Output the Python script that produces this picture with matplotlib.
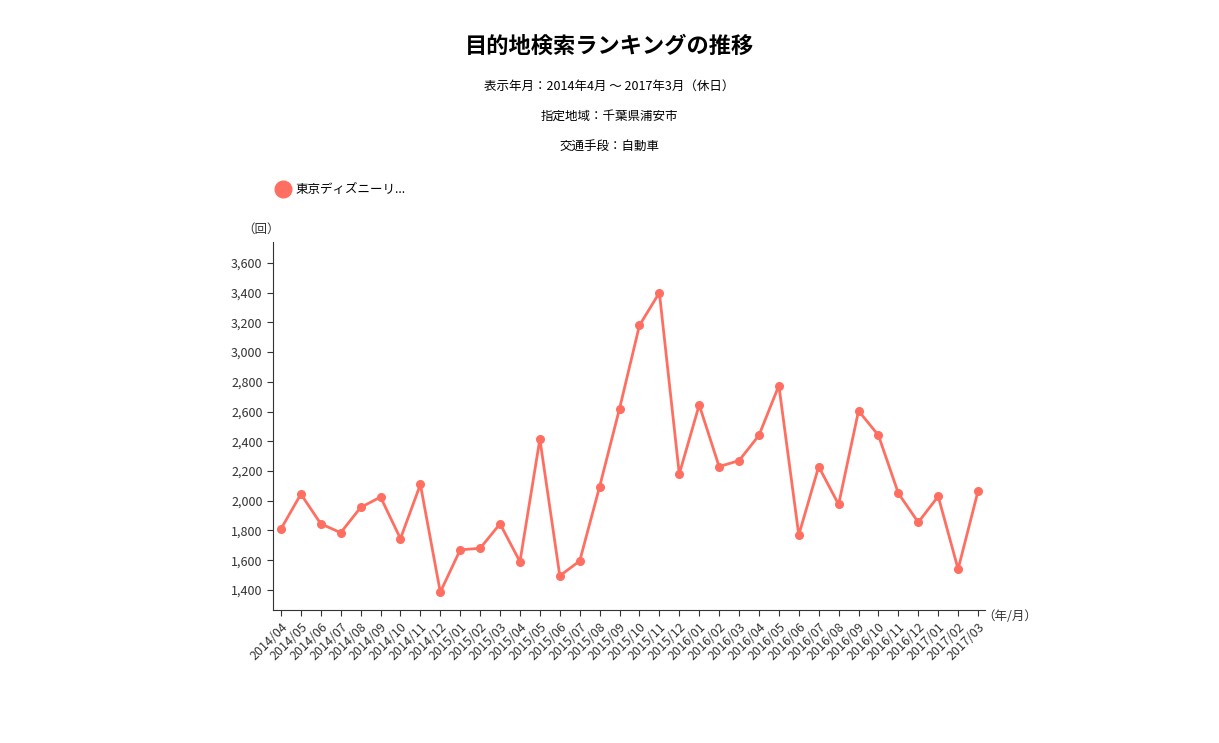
import matplotlib
matplotlib.use("Agg")
import matplotlib.pyplot as plt
from matplotlib.ticker import FuncFormatter
from matplotlib.lines import Line2D

plt.rcParams['font.family'] = ['Noto Sans CJK JP', 'DejaVu Sans']

months = ["2014/04","2014/05","2014/06","2014/07","2014/08","2014/09","2014/10","2014/11","2014/12",
          "2015/01","2015/02","2015/03","2015/04","2015/05","2015/06","2015/07","2015/08","2015/09",
          "2015/10","2015/11","2015/12","2016/01","2016/02","2016/03","2016/04","2016/05","2016/06",
          "2016/07","2016/08","2016/09","2016/10","2016/11","2016/12","2017/01","2017/02","2017/03"]
values = [1810,2045,1845,1785,1955,2025,1745,2110,1385,
          1670,1680,1845,1590,2415,1495,1595,2095,2620,
          3180,3400,2180,2645,2230,2270,2440,2775,1770,
          2230,1975,2605,2440,2050,1855,2030,1540,2065]
series_name = "東京ディズニーリ..."
yticks = list(range(1400, 3601, 200))

color = "#FF6F61"
W, H = 1219, 743
fig = plt.figure(figsize=(W/100, H/100), dpi=100)
ax = fig.add_axes([273/W, 1-610/H, (985-273)/W, (610-242)/H])
x = list(range(len(months)))
ax.plot(x, values, color=color, lw=2, marker='o', ms=5.5)
ax.set_xlim(-0.4, 35.35)
ax.set_ylim(1265, 3741)
ax.set_yticks(yticks)
ax.yaxis.set_major_formatter(FuncFormatter(lambda v, p: f"{int(v):,}"))
ax.set_xticks(x)
ax.set_xticklabels(months, rotation=45, ha='right', rotation_mode='anchor')
for s in ['top', 'right']:
    ax.spines[s].set_visible(False)
for s in ['left', 'bottom']:
    ax.spines[s].set_color('#333333')
ax.tick_params(labelsize=9, colors='#333333', length=4)
ax.tick_params(axis='y', labelcolor='#333333')

fig.text(ax.get_position().x0 - 0.01, 1-229/H, "（回）", fontsize=9, ha='center', va='center', color='#333')
fig.text(1010/W, 1-617/H, "（年/月）", fontsize=9, ha='center', va='center', color='#333')

fig.text(0.5, 1-46/H, "目的地検索ランキングの推移", fontsize=16, fontweight='bold', ha='center', va='center')
fig.text(0.5, 1-86/H, "表示年月：2014年4月 ～ 2017年3月（休日）", fontsize=9, ha='center', va='center')
fig.text(0.5, 1-116/H, "指定地域：千葉県浦安市", fontsize=9, ha='center', va='center')
fig.text(0.5, 1-146/H, "交通手段：自動車", fontsize=9, ha='center', va='center')

fig.legend([Line2D([], [], color=color, marker='o', ls='none', ms=12)], [series_name],
           loc='center left', bbox_to_anchor=(265/W, 1-190/H), frameon=False,
           fontsize=9, handletextpad=0.0, borderaxespad=0)

fig.savefig("out.png", dpi=100)
